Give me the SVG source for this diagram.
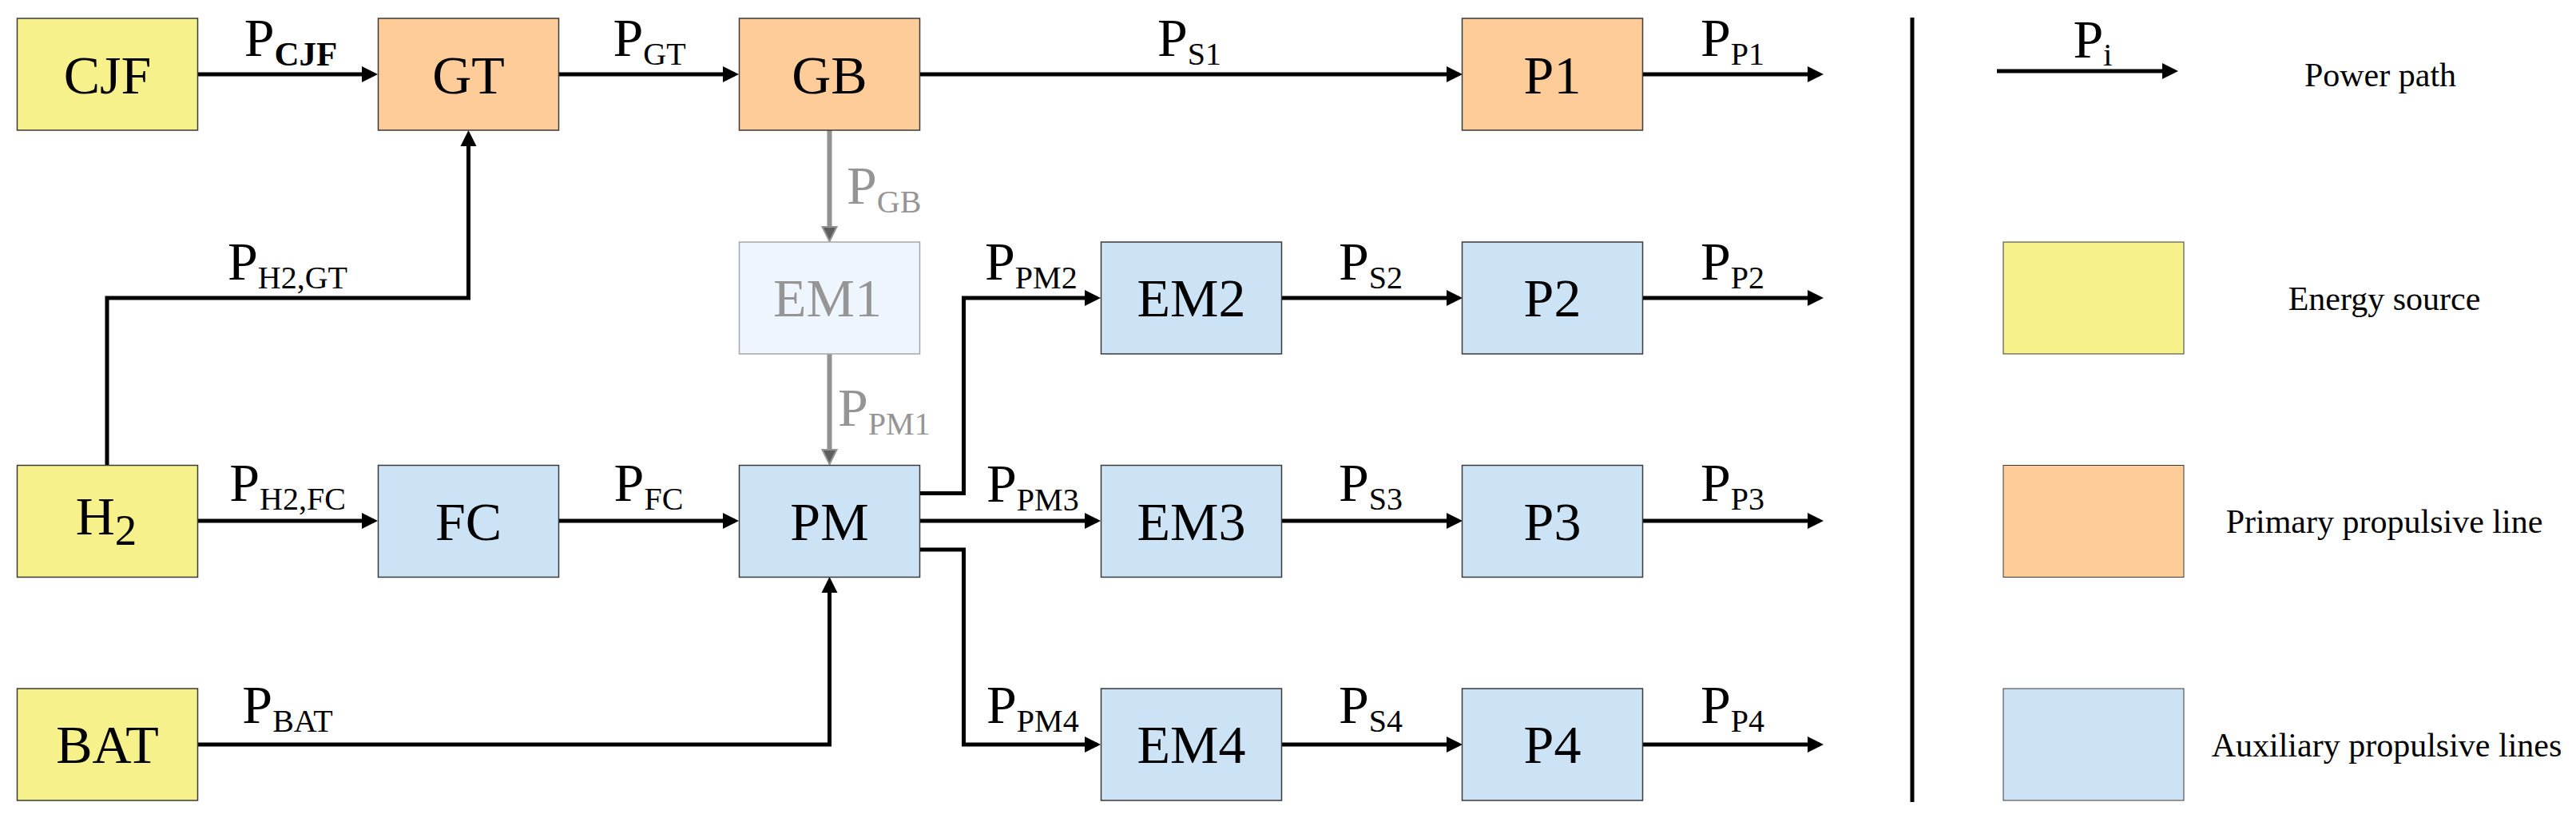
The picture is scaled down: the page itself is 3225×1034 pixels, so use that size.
<svg xmlns="http://www.w3.org/2000/svg" width="3225" height="1034" viewBox="0 0 3225 1034">
<style>
  .box { stroke: #3a3a3a; stroke-width: 1.5; }
  .src { fill: #F6F18B; }
  .pri { fill: #FDCC99; }
  .aux { fill: #CCE3F6; }
  .dim { fill: #EEF5FC; stroke: #A6A6A6; stroke-width: 1.5; }
  .nt { font-family: "Liberation Serif", "Times New Roman", serif; font-size: 68px; text-anchor: middle; fill: #000; }
  .nt.g { fill: #959595; }
  .lbl { font-family: "Liberation Serif", "Times New Roman", serif; font-size: 68px; fill: #000; }
  .lbl.g { fill: #959595; }
  .c { text-anchor: middle; }
  .sub { font-size: 40px; }
  .leg { font-family: "Liberation Serif", "Times New Roman", serif; font-size: 42px; text-anchor: middle; fill: #000; }
  .ln { fill: none; stroke: #000; stroke-width: 5; marker-end: url(#ah); }
  .gln { fill: none; stroke: #929292; stroke-width: 6; marker-end: url(#gah); }
</style>
<defs>
  <marker id="ah" markerUnits="userSpaceOnUse" markerWidth="20" markerHeight="20" refX="15" refY="10" orient="auto" overflow="visible">
    <path d="M0,0 L20,10 L0,20 Z" fill="#000"/>
  </marker>
  <marker id="gah" markerUnits="userSpaceOnUse" markerWidth="20" markerHeight="20" refX="15" refY="10" orient="auto" overflow="visible">
    <path d="M1,1 L19,10 L1,19 Z" fill="#5e5e5e" stroke="#939393" stroke-width="2"/>
  </marker>
</defs>
<rect width="3225" height="1034" fill="#fff"/>

<g id="connectors">
  <path class="ln" d="M248,93 H468"/>
  <path class="ln" d="M700,93 H920"/>
  <path class="ln" d="M1152,93 H1826"/>
  <path class="ln" d="M2057,93 H2278"/>
  <path class="gln" d="M1038.5,163 V298"/>
  <path class="gln" d="M1038.5,443 V577"/>
  <path class="ln" d="M134,582 V373 H586.5 V168"/>
  <path class="ln" d="M247,652 H468"/>
  <path class="ln" d="M700,652 H920"/>
  <path class="ln" d="M247,932 H1038.5 V727"/>
  <path class="ln" d="M1152,617.5 H1206.5 V373 H1373"/>
  <path class="ln" d="M1152,652 H1373"/>
  <path class="ln" d="M1152,688 H1206.5 V932 H1373"/>
  <path class="ln" d="M1604,373 H1826"/>
  <path class="ln" d="M1604,652 H1826"/>
  <path class="ln" d="M1604,932 H1826"/>
  <path class="ln" d="M2057,373 H2278"/>
  <path class="ln" d="M2057,652 H2278"/>
  <path class="ln" d="M2057,932 H2278"/>
</g>

<g id="labels">
  <text class="lbl c" x="364" y="69.5">P<tspan font-size="43" font-weight="bold" dy="12">CJF</tspan></text>
  <text class="lbl c" x="813" y="70">P<tspan class="sub" dy="11">GT</tspan></text>
  <text class="lbl c" x="1489" y="70">P<tspan class="sub" dy="11">S1</tspan></text>
  <text class="lbl c" x="2169" y="70">P<tspan class="sub" dy="11">P1</tspan></text>
  <text class="lbl g" x="1060" y="255">P<tspan class="sub" dy="11">GB</tspan></text>
  <text class="lbl c" x="360" y="350">P<tspan class="sub" dy="11">H2,GT</tspan></text>
  <text class="lbl" x="1233" y="350">P<tspan class="sub" dy="11">PM2</tspan></text>
  <text class="lbl c" x="1716" y="350">P<tspan class="sub" dy="11">S2</tspan></text>
  <text class="lbl c" x="2169" y="350">P<tspan class="sub" dy="11">P2</tspan></text>
  <text class="lbl g" x="1049" y="533">P<tspan class="sub" dy="11">PM1</tspan></text>
  <text class="lbl c" x="360" y="627">P<tspan class="sub" dy="11">H2,FC</tspan></text>
  <text class="lbl c" x="812" y="627">P<tspan class="sub" dy="11">FC</tspan></text>
  <text class="lbl" x="1235" y="627.5">P<tspan class="sub" dy="11">PM3</tspan></text>
  <text class="lbl c" x="1716" y="627">P<tspan class="sub" dy="11">S3</tspan></text>
  <text class="lbl c" x="2169" y="627">P<tspan class="sub" dy="11">P3</tspan></text>
  <text class="lbl c" x="360" y="905">P<tspan class="sub" dy="11">BAT</tspan></text>
  <text class="lbl" x="1235" y="905">P<tspan class="sub" dy="11">PM4</tspan></text>
  <text class="lbl c" x="1716" y="905">P<tspan class="sub" dy="11">S4</tspan></text>
  <text class="lbl c" x="2169" y="905">P<tspan class="sub" dy="11">P4</tspan></text>
</g>

<g id="CJF"><rect class="box src" x="21.5" y="23" width="226" height="140"/><text class="nt" x="134.5" y="117">CJF</text></g>
<g id="GT"><rect class="box pri" x="473.5" y="23" width="226" height="140"/><text class="nt" x="586.5" y="117">GT</text></g>
<g id="GB"><rect class="box pri" x="925.5" y="23" width="226" height="140"/><text class="nt" x="1038.5" y="117">GB</text></g>
<g id="P1"><rect class="box pri" x="1830.5" y="23" width="226" height="140"/><text class="nt" x="1943.5" y="117">P1</text></g>

<g id="EM1"><rect class="dim" x="925.5" y="303" width="226" height="140"/><text class="nt g" x="1036" y="396">EM1</text></g>
<g id="EM2"><rect class="box aux" x="1378.5" y="303" width="226" height="140"/><text class="nt" x="1491.5" y="396">EM2</text></g>
<g id="P2"><rect class="box aux" x="1830.5" y="303" width="226" height="140"/><text class="nt" x="1943.5" y="396">P2</text></g>

<g id="H2"><rect class="box src" x="21.5" y="582.5" width="226" height="140"/><text class="nt" x="133" y="669">H<tspan font-size="55" dy="13">2</tspan></text></g>
<g id="FC"><rect class="box aux" x="473.5" y="582.5" width="226" height="140"/><text class="nt" x="586.5" y="675.5">FC</text></g>
<g id="PM"><rect class="box aux" x="925.5" y="582.5" width="226" height="140"/><text class="nt" x="1038.5" y="675.5">PM</text></g>
<g id="EM3"><rect class="box aux" x="1378.5" y="582.5" width="226" height="140"/><text class="nt" x="1491.5" y="675.5">EM3</text></g>
<g id="P3"><rect class="box aux" x="1830.5" y="582.5" width="226" height="140"/><text class="nt" x="1943.5" y="675.5">P3</text></g>

<g id="BAT"><rect class="box src" x="21.5" y="862" width="226" height="140"/><text class="nt" x="134.5" y="955">BAT</text></g>
<g id="EM4"><rect class="box aux" x="1378.5" y="862" width="226" height="140"/><text class="nt" x="1491.5" y="955">EM4</text></g>
<g id="P4"><rect class="box aux" x="1830.5" y="862" width="226" height="140"/><text class="nt" x="1943.5" y="955">P4</text></g>

<g id="legend">
  <line x1="2394" y1="22" x2="2394" y2="1004" stroke="#000" stroke-width="5"/>
  <path class="ln" d="M2500,89 H2722"/>
  <text class="lbl c" x="2620" y="71.5">P<tspan class="sub" dy="10">i</tspan></text>
  <text class="leg" x="2980" y="108">Power path</text>
  <rect x="2508" y="303" width="226" height="140" fill="#F6F18B" stroke="#3a3a3a" stroke-width="1"/>
  <text class="leg" x="2985" y="388">Energy source</text>
  <rect x="2508" y="582.5" width="226" height="140" fill="#FDCC99" stroke="#3a3a3a" stroke-width="1"/>
  <text class="leg" x="2985" y="667">Primary propulsive line</text>
  <rect x="2508" y="862" width="226" height="140" fill="#CCE3F6" stroke="#3a3a3a" stroke-width="1"/>
  <text class="leg" x="2988" y="947">Auxiliary propulsive lines</text>
</g>
</svg>
